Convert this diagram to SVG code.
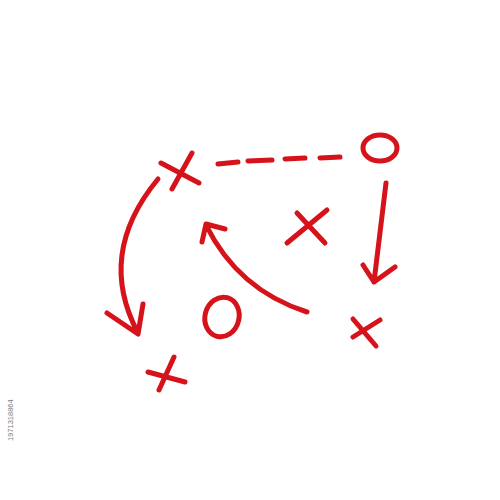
<svg xmlns="http://www.w3.org/2000/svg" width="500" height="500" viewBox="0 0 500 500">
<style>
.s{fill:none;stroke:#d6131b;stroke-width:5;stroke-linecap:round;stroke-linejoin:round}
.wm{font-family:"Liberation Sans",Arial,sans-serif;font-size:7.5px;fill:#7a7a7a}
</style>
<rect width="500" height="500" fill="#fff"/>
<g id="x-top">
<path class="s" d="M161,163 L199,183 M192,153 L172,189"/>
</g>
<g id="o-top">
<ellipse class="s" cx="380" cy="148" rx="17" ry="13"/>
</g>
<g id="x-mid">
<path class="s" d="M297,213 L325,243 M327,210 L287,243"/>
</g>
<g id="o-mid">
<ellipse class="s" cx="222" cy="317" rx="17" ry="20" transform="rotate(15 222 317)"/>
</g>
<g id="x-right">
<path class="s" d="M353,319 L376,346 M380,320 L353,337"/>
</g>
<g id="x-bottom">
<path class="s" d="M148,372 L185,382 M174,357 L159,390"/>
</g>
<g id="connectors">
<path class="s" d="M218,164 L238,162 M248,161 L272,160 M285,159 L305,158 M320,158 L340,157"/>
<path class="s" d="M386,183 L374,282 M363,265 L374,282 L395,267"/>
<path class="s" d="M158,179 Q96,254 138,333 M107,313 L138,334 L143,304"/>
<path class="s" d="M307,312 Q238,290 206,225 M202,242 L206,224 L225,229"/>
</g>
<text class="wm" transform="translate(13 441) rotate(-90)">1971318864</text>
</svg>
